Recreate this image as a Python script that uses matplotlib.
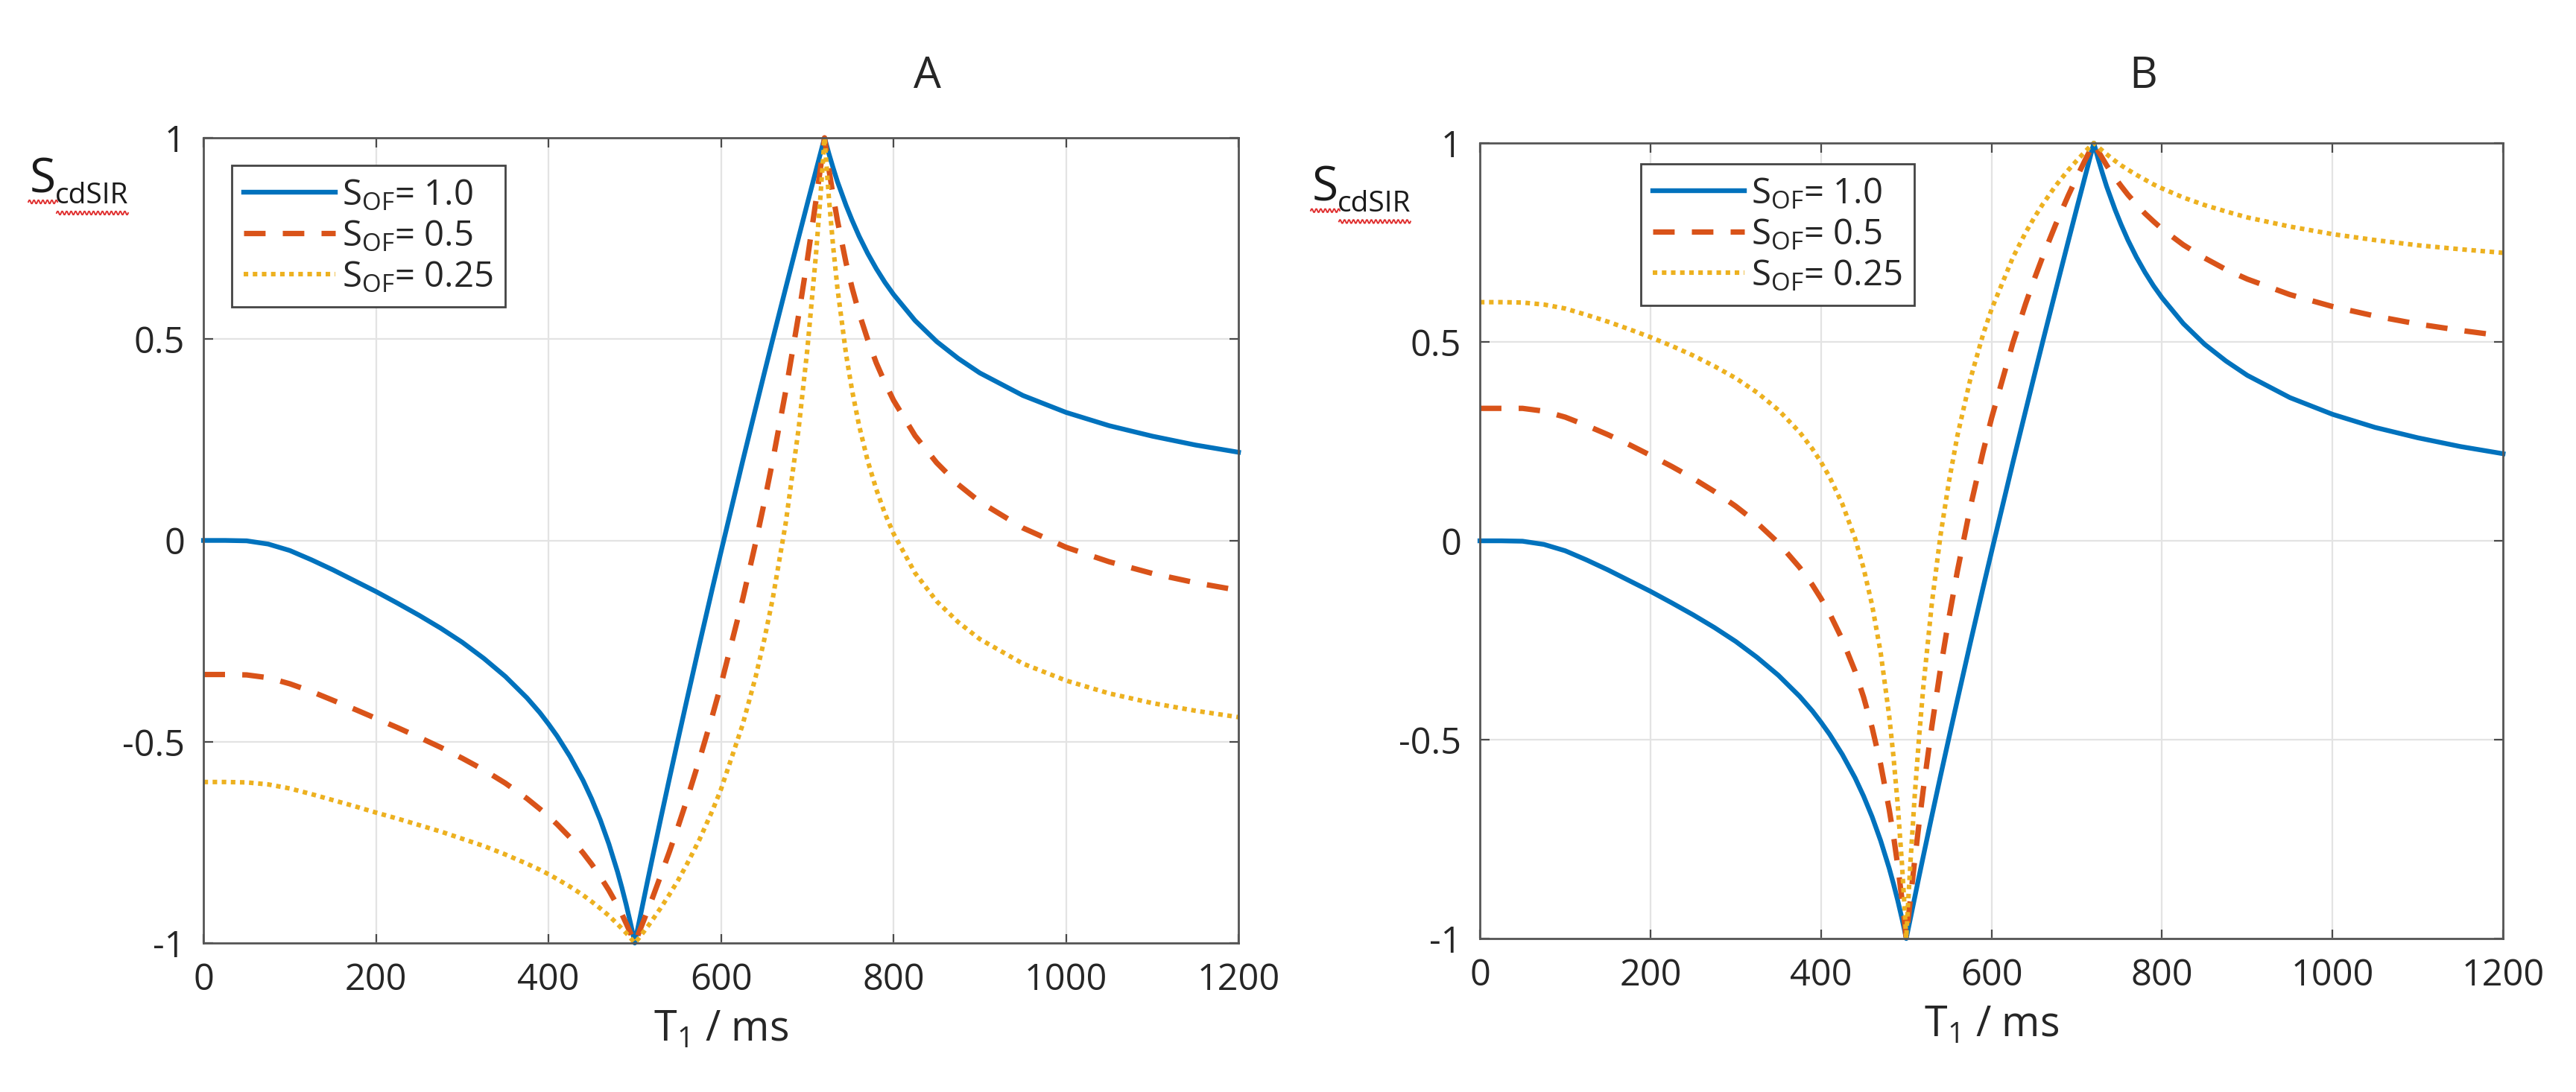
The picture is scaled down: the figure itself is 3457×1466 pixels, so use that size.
import numpy as np
import matplotlib
matplotlib.use("Agg")
import matplotlib.pyplot as plt
from matplotlib.lines import Line2D

plt.rcParams['font.family'] = ['Open Sans', 'DejaVu Sans']
plt.rcParams['mathtext.fontset'] = 'custom'
plt.rcParams['mathtext.rm'] = 'Open Sans'
plt.rcParams['mathtext.it'] = 'Open Sans:italic'
plt.rcParams['mathtext.bf'] = 'Open Sans:bold'
plt.rcParams['axes.unicode_minus'] = False

# T1 / ms
t1 = [0, 25, 50, 75, 100, 125, 150, 175, 200, 225, 250, 275, 300, 325, 350,
      375, 390, 400, 410, 425, 440, 450, 460, 470, 480, 485, 490, 495, 498,
      500, 502, 505, 510, 515, 520, 530, 540, 550, 560, 575, 590, 600, 625,
      640, 650, 660, 675, 690, 700, 710, 715, 720, 725, 730, 735, 745, 752,
      760, 770, 780, 790, 800, 825, 850, 875, 900, 950, 1000, 1050, 1100,
      1150, 1200]

# S_OF = 1.0 (same curve in A and B)
s_10 = [0.0, 0.0, -0.001, -0.009, -0.025, -0.048, -0.073, -0.100, -0.127,
        -0.156, -0.186, -0.218, -0.253, -0.293, -0.338, -0.391, -0.428, -0.456,
        -0.486, -0.537, -0.596, -0.642, -0.694, -0.754, -0.823, -0.862, -0.904,
        -0.950, -0.979, -1.0, -0.979, -0.948, -0.896, -0.844, -0.793, -0.692,
        -0.593, -0.496, -0.400, -0.258, -0.119, -0.028, 0.196, 0.327, 0.414,
        0.500, 0.627, 0.753, 0.836, 0.918, 0.959, 1.0, 0.961, 0.925, 0.891,
        0.832, 0.795, 0.756, 0.713, 0.675, 0.641, 0.611, 0.546, 0.494, 0.452,
        0.416, 0.360, 0.318, 0.285, 0.259, 0.237, 0.219]

# panel A
a_05 = [-0.333, -0.333, -0.334, -0.341, -0.356, -0.375, -0.397, -0.419, -0.442,
        -0.465, -0.489, -0.514, -0.541, -0.570, -0.603, -0.641, -0.667, -0.685,
        -0.705, -0.738, -0.776, -0.804, -0.835, -0.869, -0.907, -0.928, -0.951,
        -0.975, -0.990, -1.0, -0.989, -0.973, -0.946, -0.919, -0.891, -0.833,
        -0.774, -0.712, -0.647, -0.544, -0.435, -0.358, -0.147, -0.007, 0.093,
        0.199, 0.371, 0.560, 0.696, 0.843, 0.920, 1.0, 0.923, 0.855, 0.794,
        0.689, 0.627, 0.565, 0.499, 0.441, 0.392, 0.348, 0.260, 0.193, 0.139,
        0.096, 0.031, -0.017, -0.053, -0.082, -0.105, -0.124]
a_025 = [-0.600, -0.600, -0.601, -0.606, -0.616, -0.630, -0.645, -0.660, -0.676,
         -0.691, -0.707, -0.723, -0.741, -0.759, -0.780, -0.803, -0.818, -0.829,
         -0.841, -0.860, -0.881, -0.897, -0.914, -0.932, -0.953, -0.964, -0.975,
         -0.987, -0.995, -1.0, -0.995, -0.987, -0.973, -0.959, -0.944, -0.913,
         -0.880, -0.845, -0.806, -0.743, -0.671, -0.618, -0.458, -0.340, -0.248,
         -0.144, 0.043, 0.278, 0.473, 0.708, 0.846, 1.0, 0.852, 0.730, 0.626,
         0.462, 0.372, 0.286, 0.198, 0.127, 0.067, 0.017, -0.081, -0.151, -0.203,
         -0.245, -0.306, -0.348, -0.380, -0.404, -0.423, -0.439]

# panel B
b_05 = [0.333, 0.333, 0.333, 0.326, 0.311, 0.290, 0.267, 0.242, 0.215, 0.187,
        0.157, 0.124, 0.087, 0.045, -0.005, -0.067, -0.111, -0.145, -0.182,
        -0.248, -0.328, -0.393, -0.470, -0.562, -0.675, -0.741, -0.816, -0.902,
        -0.959, -1.0, -0.958, -0.898, -0.802, -0.711, -0.625, -0.467, -0.324,
        -0.195, -0.076, 0.083, 0.223, 0.308, 0.497, 0.596, 0.657, 0.714, 0.794,
        0.868, 0.914, 0.958, 0.979, 1.0, 0.980, 0.962, 0.944, 0.912, 0.892,
        0.870, 0.846, 0.823, 0.803, 0.784, 0.744, 0.711, 0.682, 0.658, 0.619,
        0.589, 0.565, 0.545, 0.529, 0.515]
b_025 = [0.600, 0.600, 0.599, 0.594, 0.584, 0.568, 0.551, 0.532, 0.512, 0.490,
         0.466, 0.439, 0.409, 0.373, 0.329, 0.273, 0.231, 0.198, 0.161, 0.093,
         0.006, -0.069, -0.162, -0.281, -0.440, -0.542, -0.663, -0.813, -0.920,
         -1.0, -0.919, -0.806, -0.639, -0.495, -0.368, -0.158, 0.011, 0.148,
         0.264, 0.405, 0.518, 0.582, 0.712, 0.775, 0.812, 0.846, 0.892, 0.932,
         0.956, 0.979, 0.990, 1.0, 0.990, 0.981, 0.972, 0.955, 0.944, 0.933,
         0.920, 0.908, 0.896, 0.886, 0.863, 0.844, 0.828, 0.813, 0.790, 0.771,
         0.756, 0.743, 0.733, 0.724]

labels = ['S$_{\\mathrm{OF}}$= 1.0', 'S$_{\\mathrm{OF}}$= 0.5', 'S$_{\\mathrm{OF}}$= 0.25']
xticks = [0, 200, 400, 600, 800, 1000, 1200]
yticks = [-1, -0.5, 0, 0.5, 1]
yticklabels = ['-1', '-0.5', '0', '0.5', '1']

blue = '#0072BD'
red = '#D95319'
yellow = '#EDB120'
txt_col = '#262626'

fig = plt.figure(figsize=(17.285, 7.33), dpi=200)
ax_a = fig.add_axes([0.0790, 0.1364, 0.4018, 0.7374])
ax_b = fig.add_axes([0.5745, 0.1405, 0.3972, 0.7285])


def draw_panel(ax, y05, y025, leg_anchor):
    ax.plot(t1, s_10, color=blue, lw=2.3, clip_on=False, label=labels[0])
    ax.plot(t1, y05, color=red, lw=2.6, dashes=(4, 3.2), clip_on=False, label=labels[1])
    ax.plot(t1, y025, color=yellow, lw=2.2, linestyle=(0, (1, 1)), clip_on=False, label=labels[2])
    ax.set_xlim(0, 1200)
    ax.set_ylim(-1, 1)
    ax.set_xticks(xticks)
    ax.set_yticks(yticks)
    ax.set_yticklabels(yticklabels)
    ax.grid(True, color='#e3e3e3', lw=0.8)
    ax.set_axisbelow(True)
    ax.tick_params(direction='in', length=4.5, width=0.8, color='#4a4a4a',
                   top=True, right=True, labelsize=17.5, labelcolor=txt_col, pad=9)
    for sp in ax.spines.values():
        sp.set_color('#555555')
        sp.set_linewidth(1.0)
    ax.set_xlabel('T$_{\\mathrm{1}}$ / ms', fontsize=20, color=txt_col, labelpad=5)
    leg = ax.legend(loc='upper left', bbox_to_anchor=leg_anchor, borderaxespad=0,
                    fontsize=17, handlelength=2.6, handletextpad=0.2, labelspacing=0.16,
                    borderpad=0.35, fancybox=False, framealpha=1, edgecolor='#444444')
    leg.get_frame().set_linewidth(1.0)
    for txt in leg.get_texts():
        txt.set_color(txt_col)


draw_panel(ax_a, a_05, a_025, (0.027, 0.966))
draw_panel(ax_b, b_05, b_025, (0.157, 0.974))

fig.text(0.360, 0.930, 'A', fontsize=21, color=txt_col, ha='center', va='center')
fig.text(0.832, 0.930, 'B', fontsize=21, color=txt_col, ha='center', va='center')

# y label "S_cdSIR" placed top-left of each panel, big S with small subscript
W, H = fig.bbox.width, fig.bbox.height
ylab_pos = [(0.0116, 0.824, 0.0214, 0.8138), (0.5094, 0.816, 0.5192, 0.806)]
fig.canvas.draw()
renderer = fig.canvas.get_renderer()
for sx, sy, cx, cy in ylab_pos:
    t_s = fig.text(sx, sy, 'S', fontsize=23, color='#1a1a1a', ha='left', va='baseline')
    t_c = fig.text(cx, cy, 'cdSIR', fontsize=14, color='#1a1a1a', ha='left', va='baseline')
    bs = t_s.get_window_extent(renderer)
    bc = t_c.get_window_extent(renderer)
    # red spell-check squiggle under the word
    segs = [(bs.x0 - 2, bc.x0 + 4, sy * H - 13),
            (bc.x0 + 2, bc.x1, cy * H - 13)]
    for xs, xe, yb in segs:
        xx = np.arange(xs, xe, 1.0)
        yy = yb + 2.5 * np.sin((xx - xs) / 3.0 * np.pi)
        fig.add_artist(Line2D(xx / W, yy / H, transform=fig.transFigure,
                              color='#e03030', lw=0.7))

fig.savefig('out.png', dpi=200, facecolor='white')
